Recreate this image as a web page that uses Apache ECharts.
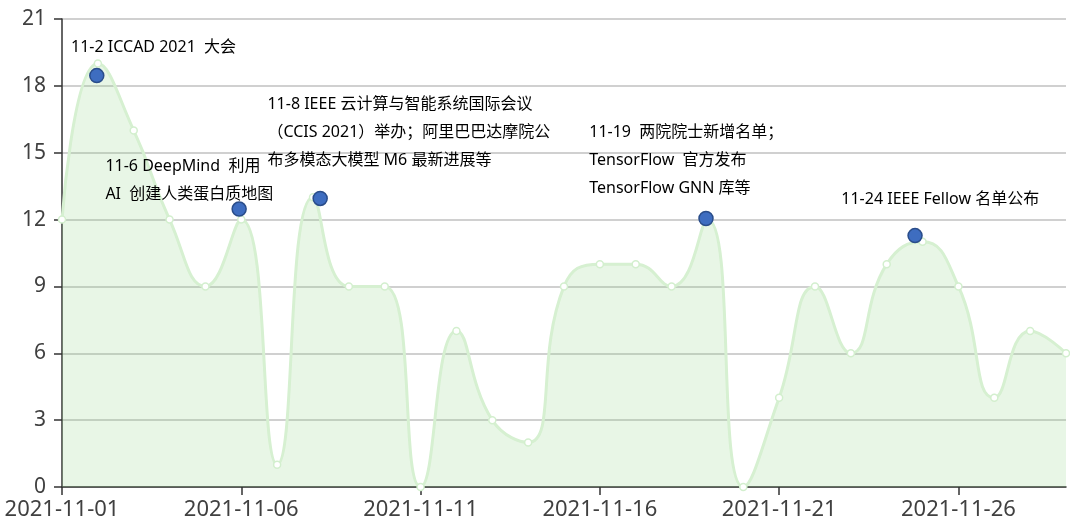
<!DOCTYPE html>
<html>
<head>
<meta charset="utf-8">
<script src="https://cdn.jsdelivr.net/npm/echarts@6/dist/echarts.min.js"></script>
<style>
  html, body { margin: 0; padding: 0; background: #fff; }
  #main { width: 1070px; height: 526px; }
</style>
</head>
<body>
<div id="main"></div>
<script>
// 每日数值 (2021-11-01 ~ 2021-11-29)
const dates = [
    '2021-11-01', '2021-11-02', '2021-11-03', '2021-11-04', '2021-11-05',
    '2021-11-06', '2021-11-07', '2021-11-08', '2021-11-09', '2021-11-10',
    '2021-11-11', '2021-11-12', '2021-11-13', '2021-11-14', '2021-11-15',
    '2021-11-16', '2021-11-17', '2021-11-18', '2021-11-19', '2021-11-20',
    '2021-11-21', '2021-11-22', '2021-11-23', '2021-11-24', '2021-11-25',
    '2021-11-26', '2021-11-27', '2021-11-28', '2021-11-29'
];
const values = [12, 19, 16, 12, 9, 12, 1, 13, 9, 9, 0, 7, 3, 2, 9, 10, 10, 9, 12, 0, 4, 9, 6, 10, 11, 9, 4, 7, 6];

// 事件标注 (位置为距 11-01 的天数)
const eventDays = [0.97, 4.94, 7.2, 17.96, 23.79];
const eventValues = [18.46, 12.47, 12.95, 12.05, 11.28];
const eventTexts = [
    '11-2 ICCAD 2021  大会',
    '11-6 DeepMind  利用\nAI  创建人类蛋白质地图',
    '11-8 IEEE 云计算与智能系统国际会议\n（CCIS 2021）举办；阿里巴巴达摩院公\n布多模态大模型 M6 最新进展等',
    '11-19  两院院士新增名单；\nTensorFlow  官方发布\nTensorFlow GNN 库等',
    '11-24 IEEE Fellow 名单公布'
];

// 标注文字相对圆点的偏移
const labelOffsets = [[-18, -34], [-126, -49], [-45, -100], [-109, -92], [-66, -42]];

const chart = echarts.init(document.getElementById('main'));

const option = {
    animation: false,
    grid: {
        left: 62,
        right: 4,
        top: 19,
        bottom: 39
    },
    xAxis: {
        type: 'value',
        min: 0,
        max: dates.length - 1,
        interval: 5,
        axisLine: {
            lineStyle: { color: '#333', width: 1.5 }
        },
        axisTick: {
            length: 8,
            lineStyle: { color: '#333', width: 1.5 }
        },
        axisLabel: {
            margin: 12,
            fontSize: 22,
            color: '#404040',
            fontFamily: 'Noto Sans',
            showMaxLabel: false,
            formatter: function (v) {
                return v % 5 === 0 ? dates[v] : '';
            }
        },
        splitLine: { show: false }
    },
    yAxis: {
        type: 'value',
        min: 0,
        max: 21,
        interval: 3,
        axisLine: {
            show: true,
            lineStyle: { color: '#333', width: 1.5 }
        },
        axisTick: {
            show: true,
            length: 8,
            lineStyle: { color: '#333', width: 1.5 }
        },
        axisLabel: {
            margin: 16,
            fontSize: 21,
            color: '#404040',
            fontFamily: 'Noto Sans'
        },
        splitLine: {
            lineStyle: { color: '#d0d0d0', width: 2 }
        }
    },
    series: [
        {
            type: 'line',
            smooth: true,
            data: values.map(function (v, i) { return [i, v]; }),
            symbol: 'circle',
            symbolSize: 7,
            itemStyle: {
                color: '#fff',
                borderColor: '#d3efce',
                borderWidth: 1.5
            },
            lineStyle: {
                color: '#d6f0d1',
                width: 3
            },
            areaStyle: {
                color: 'rgba(140, 212, 132, 0.29)'
            },
            z: 2
        },
        {
            type: 'scatter',
            data: eventDays.map(function (d, i) {
                return {
                    value: [d, eventValues[i]],
                    label: { position: labelOffsets[i] }
                };
            }),
            symbolSize: 14,
            itemStyle: {
                color: '#3e6dc0',
                borderColor: '#2a4d8a',
                borderWidth: 1.5,
                opacity: 1
            },
            label: {
                show: true,
                align: 'left',
                verticalAlign: 'top',
                fontSize: 16,
                lineHeight: 28,
                color: '#000',
                fontFamily: 'Noto Sans, Noto Sans CJK SC',
                formatter: function (p) {
                    return eventTexts[p.dataIndex];
                }
            },
            z: 5
        }
    ]
};

chart.setOption(option);
</script>
</body>
</html>
